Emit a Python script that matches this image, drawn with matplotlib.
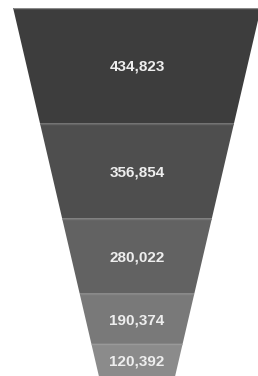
import matplotlib
matplotlib.use("Agg")
import matplotlib.pyplot as plt
from matplotlib.patches import Polygon

values = [434823, 356854, 280022, 190374, 120392]
labels = ["434,823", "356,854", "280,022", "190,374", "120,392"]
colors = ["#3d3d3d", "#4e4e4e", "#626262", "#797979", "#8b8b8b"]
sep_colors = ["#8a8a8a", "#646464", "#747474", "#858585", "#999999"]

W, H = 258, 376
fig = plt.figure(figsize=(W / 100, H / 100), dpi=100)
top_px = 7.5
ax = fig.add_axes([0, 0, 1, (H - top_px) / H])
total = sum(values)
k = (H - top_px) / total  # px per unit
cx_px = 137.0
half_top = 124.0 / k
slope = 0.233

def half(c):
    return half_top - slope * c

cum = 0
for i, v in enumerate(values):
    y0, y1 = cum, cum + v
    poly = Polygon([(-half(y0), y0), (half(y0), y0), (half(y1), y1), (-half(y1), y1)],
                   closed=True, facecolor=colors[i], edgecolor="none", antialiased=True)
    ax.add_patch(poly)
    ln, = ax.plot([-half(y0), half(y0)], [y0 + 0.5 / k, y0 + 0.5 / k], color=sep_colors[i],
                  lw=1.0, solid_capstyle="butt")
    ln.set_clip_path(poly)
    ax.text(0, (y0 + y1) / 2 + 1.5 / k, labels[i], ha="center", va="center",
            color="#eeeeee", fontsize=11, fontweight="bold", family="Liberation Sans")
    cum = y1

ax.set_xlim(-cx_px / k, (W - cx_px) / k)
ax.set_ylim(total, 0)
ax.axis("off")
fig.savefig("out.png", dpi=100)
